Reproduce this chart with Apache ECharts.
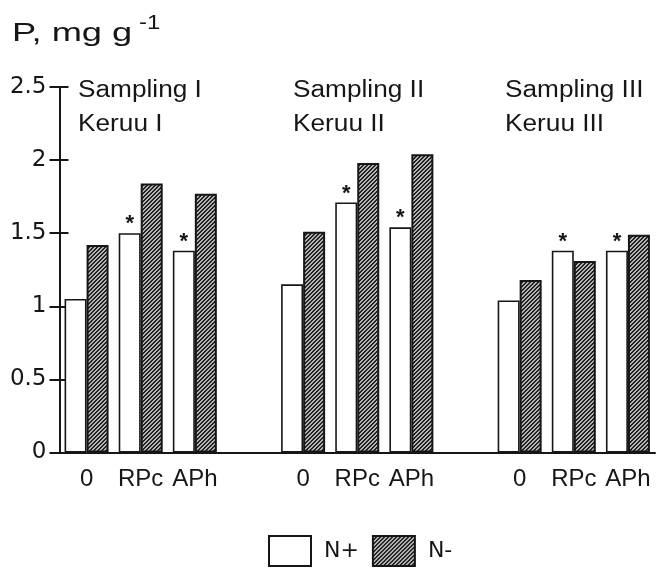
<!DOCTYPE html>
<html>
<head>
<meta charset="utf-8">
<script src="https://cdn.jsdelivr.net/npm/echarts@6/dist/echarts.min.js"></script>
<style>
  html, body { margin: 0; padding: 0; background: #ffffff; }
  #chart { width: 666px; height: 568px; }
</style>
</head>
<body>
<div id="chart"></div>
<script>
// Treatments within each sampling
const treatments = ['0', 'RPc', 'APh'];
const samplingTitles = ['Sampling I', 'Sampling II', 'Sampling III'];
const keruuTitles = ['Keruu I', 'Keruu II', 'Keruu III'];

// P concentration, mg g-1
const nPlusI = [1.05, 1.50, 1.38];
const nPlusII = [1.15, 1.71, 1.54];
const nPlusIII = [1.04, 1.38, 1.38];
const nMinusI = [1.42, 1.84, 1.77];
const nMinusII = [1.51, 1.98, 2.04];
const nMinusIII = [1.18, 1.31, 1.49];

// significant difference markers on the N+ bars
const starredI = [false, true, true];
const starredII = [false, true, true];
const starredIII = [false, true, true];

const yTicks = [0, 0.5, 1, 1.5, 2, 2.5];

const INK = '#161616';
const FONT = '"Liberation Sans", Arial, sans-serif';
const AXIS_FONT = '"DejaVu Sans", "Liberation Sans", sans-serif';

// stippled diagonal fill for the N- bars
function makeHatch() {
  const c = document.createElement('canvas');
  c.width = 4; c.height = 4;
  const g = c.getContext('2d');
  g.fillStyle = '#b4b4b4';
  g.fillRect(0, 0, 4, 4);
  g.fillStyle = '#222222';
  for (let i = 0; i < 4; i++) {
    g.fillRect(3 - i, i, 1, 1);
    g.fillRect((4 - i) % 4, i, 1, 1);
  }
  return c;
}
const hatch = { image: makeHatch(), repeat: 'repeat' };

// assemble category slots with an empty slot between samplings
const plusGroups = [nPlusI, nPlusII, nPlusIII];
const minusGroups = [nMinusI, nMinusII, nMinusIII];
const starGroups = [starredI, starredII, starredIII];
const categories = [];
const plusData = [];
const minusData = [];
plusGroups.forEach((grp, gi) => {
  if (gi > 0) {
    categories.push('gap' + gi);
    plusData.push('-');
    minusData.push('-');
  }
  treatments.forEach((t, ti) => {
    categories.push(t + '|' + gi);
    plusData.push(starGroups[gi][ti]
      ? { value: grp[ti], label: { show: true } }
      : grp[ti]);
    minusData.push(minusGroups[gi][ti]);
  });
});

const chart = echarts.init(document.getElementById('chart'));

const yBase = {
  type: 'value',
  min: yTicks[0],
  max: yTicks[yTicks.length - 1],
  interval: yTicks[1] - yTicks[0],
  splitLine: { show: false }
};

// axis unit and sampling captions
const annX = [78, 293, 505];
const graphics = [
  {
    type: 'text', x: 12, y: 22, scaleX: 1.45,
    style: { text: 'P, mg g', font: '25px ' + FONT, fill: INK, align: 'left', verticalAlign: 'top' }
  },
  {
    type: 'text', x: 139, y: 13, scaleX: 1.2,
    style: { text: '-1', font: '20px ' + FONT, fill: INK, align: 'left', verticalAlign: 'top' }
  }
];
samplingTitles.forEach((s, i) => {
  graphics.push({
    type: 'text', x: annX[i], y: 74, scaleX: 1.14,
    style: {
      text: s + '\n' + keruuTitles[i], font: '23px ' + FONT, fill: INK,
      lineHeight: 34, align: 'left', verticalAlign: 'top'
    }
  });
});

chart.setOption({
  animation: false,
  backgroundColor: '#ffffff',
  grid: { left: 59.5, right: 11, top: 87, bottom: 115.5, containLabel: false },
  xAxis: {
    type: 'category',
    data: categories,
    axisLine: { lineStyle: { color: INK, width: 2 } },
    axisTick: { show: false },
    axisLabel: {
      interval: 0,
      margin: 15,
      color: INK,
      fontFamily: FONT,
      fontSize: 24,
      formatter: v => v.startsWith('gap') ? '' : v.split('|')[0]
    }
  },
  yAxis: [
    Object.assign({}, yBase, {
      axisLine: { show: true, lineStyle: { color: INK, width: 2 } },
      axisTick: { show: true, length: 10, lineStyle: { color: INK, width: 2 } },
      axisLabel: { color: INK, fontFamily: AXIS_FONT, fontSize: 23, margin: 13 }
    }),
    Object.assign({}, yBase, {
      position: 'left',
      axisLine: { show: false },
      axisTick: { show: true, inside: true, length: 9, lineStyle: { color: INK, width: 2 } },
      axisLabel: { show: false }
    })
  ],
  legend: {
    left: 268,
    top: 535,
    padding: 0,
    itemWidth: 42,
    itemHeight: 30,
    itemGap: 13,
    icon: 'rect',
    textStyle: { color: INK, fontFamily: AXIS_FONT, fontSize: 22, padding: [0, 0, 0, 8] },
    data: [
      { name: 'N+', itemStyle: { color: '#ffffff', borderColor: INK, borderWidth: 2 } },
      { name: 'N-', itemStyle: { color: hatch, borderColor: INK, borderWidth: 2 } }
    ]
  },
  graphic: graphics,
  series: [
    {
      name: 'N+',
      type: 'bar',
      barWidth: 22,
      barGap: '0%',
      data: plusData,
      itemStyle: { color: '#ffffff', borderColor: INK, borderWidth: 1.6 },
      label: {
        show: false,
        position: 'top',
        distance: -2,
        formatter: '*',
        color: INK,
        fontFamily: FONT,
        fontSize: 22,
        fontWeight: 'bold'
      }
    },
    {
      name: 'N-',
      type: 'bar',
      barWidth: 22,
      barGap: '0%',
      data: minusData,
      itemStyle: { color: hatch, borderColor: INK, borderWidth: 2 }
    }
  ]
});
</script>
</body>
</html>
